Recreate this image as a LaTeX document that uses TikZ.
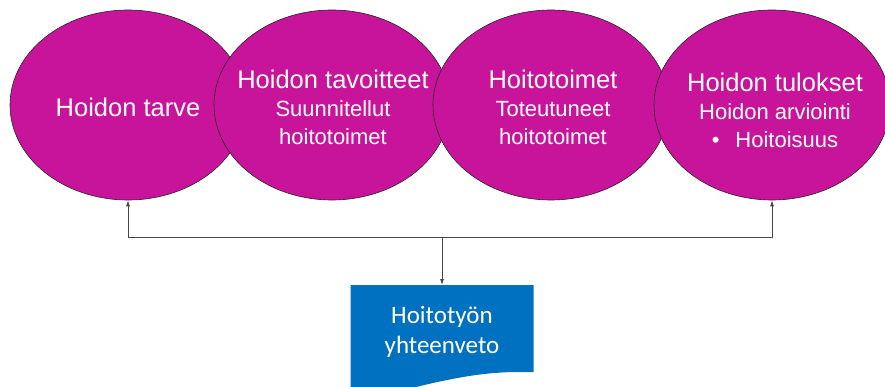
\documentclass[tikz,border=0pt]{standalone}
\usepackage{fontspec}
\setmainfont{Liberation Sans}
\newfontfamily\docfont{Carlito}
\usetikzlibrary{shapes.geometric,arrows.meta,backgrounds}
\definecolor{phasepink}{RGB}{200,20,155}
\definecolor{docblue}{RGB}{0,112,192}
\definecolor{linegray}{RGB}{70,70,70}

\begin{document}
\begin{tikzpicture}[x=1pt,y=-1pt,
	phase/.style={ellipse, draw=black!85, line width=0.6pt, fill=phasepink, minimum width=236pt, minimum height=190pt, inner sep=0pt},
	phasetext/.style={inner sep=0pt, align=center, text=white, font=\fontsize{25.5}{28}\selectfont},
	doc/.style={rectangle, minimum width=183pt, minimum height=90pt, inner sep=0pt, align=center, text=white, font=\docfont\fontsize{25}{30}\selectfont},
	>={Latex[length=6pt,width=4pt]}
	]
	
	\useasboundingbox (0,0) rectangle (885,387);
	
	%-----------------------
	% Customizable heights
	%-----------------------
	\def\hphase{105}  % Row 1: care process ellipses
	\def\hbus{237}    % Row 2: feedback line
	\def\hdoc{332}    % Row 3: summary document
	\def\lsub{\fontsize{22}{26}\selectfont}
	
	%-----------------------
	% Row 1: care process phases
	%-----------------------
	\node[phase] (need) at (128,\hphase) {};
	\node[phase] (goal) at (332,\hphase) {};
	\node[phase] (act) at (551,\hphase) {};
	\node[phase] (res) at (772,\hphase) {};
	
	\node[phasetext] (need-t) at (128,\hphase+2) {Hoidon tarve};
	\node[phasetext] (goal-t) at (333,\hphase+2) {Hoidon tavoitteet\\ \lsub Suunnitellut\\ \lsub hoitotoimet};
	\node[phasetext] (act-t) at (553,\hphase+2) {Hoitotoimet\\ \lsub Toteutuneet\\ \lsub hoitotoimet};
	\node[phasetext] (res-t) at (775,\hphase+5) {Hoidon tulokset\\ \lsub Hoidon arviointi\\ \lsub \textbullet\hspace{16pt}Hoitoisuus};
	
	%-----------------------
	% Row 3: summary document
	%-----------------------
	\node[doc] (sum) at (442,\hdoc) {Hoitotyön\\yhteenveto};
	\begin{scope}[on background layer]
		\fill[docblue] (350.5,285) -- (533.5,285) -- (533.5,372) -- (519,372)
			.. controls (490,372) and (460,376) .. (412,388)
			.. controls (385,396) and (365,398) .. (350.5,398) -- cycle;
	\end{scope}
	
	%-----------------------
	% Connections
	%-----------------------
	\tikzset{connect/.style={->,draw=linegray,line width=0.8pt}}
	\coordinate (hub) at (442,\hbus);
	\coordinate (docTop) at (442,285);
	
	% feedback to need and results (upwards)
	\draw[connect] (hub) -| (need.south);
	\draw[connect] (hub) -| (res.south);
	
	% down to the summary
	\draw[connect] (hub) -- (docTop);
	
\end{tikzpicture}
\end{document}
